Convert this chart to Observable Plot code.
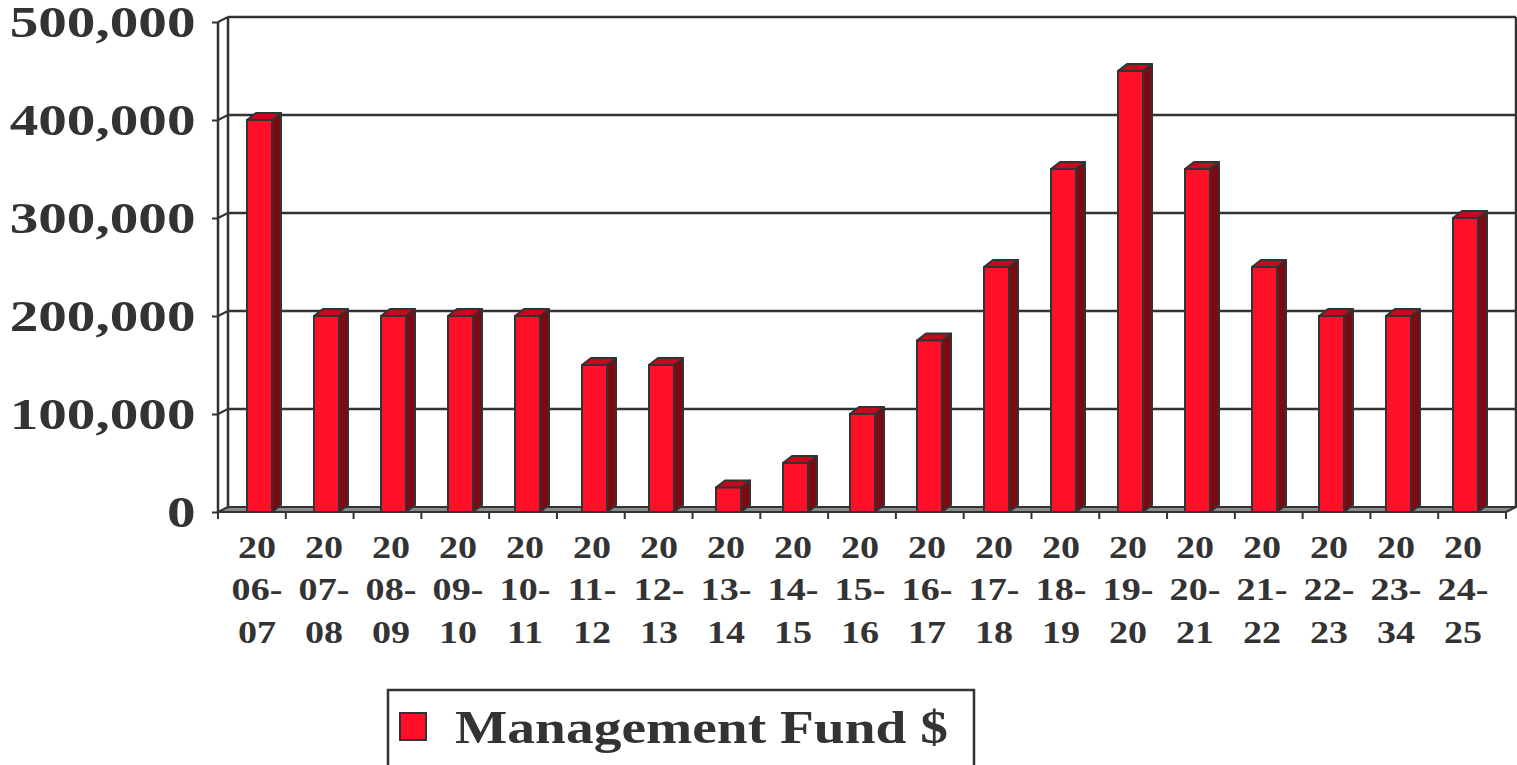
<!DOCTYPE html>
<html>
<head>
<meta charset="utf-8">
<script src="https://cdn.jsdelivr.net/npm/d3@7"></script>
<script src="https://cdn.jsdelivr.net/npm/@observablehq/plot@0.6"></script>
<style>
  html, body { margin: 0; padding: 0; background: #fff; }
  body { width: 1517px; height: 765px; overflow: hidden; position: relative; font-family: "Liberation Serif", "Times New Roman", serif; }
  #legend { position: absolute; left: 0; top: 665px; }
</style>
</head>
<body>
<div id="chart"></div>
<svg id="legend" width="1517" height="100"></svg>
<script>
// ---- data ----
const seasons = ["2006-07","2007-08","2008-09","2009-10","2010-11","2011-12","2012-13","2013-14","2014-15","2015-16","2016-17","2017-18","2018-19","2019-20","2020-21","2021-22","2022-23","2023-34","2024-25"];
const tickLabels = ["20\n06-\n07","20\n07-\n08","20\n08-\n09","20\n09-\n10","20\n10-\n11","20\n11-\n12","20\n12-\n13","20\n13-\n14","20\n14-\n15","20\n15-\n16","20\n16-\n17","20\n17-\n18","20\n18-\n19","20\n19-\n20","20\n20-\n21","20\n21-\n22","20\n22-\n23","20\n23-\n34","20\n24-\n25"];
const fundValues = [400000,200000,200000,200000,200000,150000,150000,25000,50000,100000,175000,250000,350000,450000,350000,250000,200000,200000,300000];
const yTicks = [0,100000,200000,300000,400000,500000];
const seriesName = "Management Fund $";

const data = seasons.map((s, i) => ({season: s, value: fundValues[i]}));
const labelOf = new Map(seasons.map((s, i) => [s, tickLabels[i]]));

// ---- style ----
const INK = "#333";
const FRONT = "#ff1028", TOP = "#c8081e", SIDE = "#7d0912", FLOOR = "#8a8a8a";
const BDX = 9, BDY = 7;   // bar depth
const WDX = 10, WDY = 5;  // wall depth

function wall(index, scales, values, dim) {
  const {y} = scales;
  const L = dim.marginLeft, R = dim.width - dim.marginRight;
  const yTop = y(500000), y0 = y(0);
  const g = d3.create("svg:g").attr("fill", "none").attr("stroke", INK).attr("stroke-width", 2.5).attr("stroke-linejoin", "round");
  for (const t of yTicks) {
    if (t === 0) continue;
    g.append("line").attr("x1", L + WDX).attr("x2", R + WDX).attr("y1", y(t) - WDY).attr("y2", y(t) - WDY);
    g.append("line").attr("x1", L).attr("x2", L + WDX).attr("y1", y(t)).attr("y2", y(t) - WDY).attr("stroke-width", 2);
  }
  g.append("line").attr("x1", L + WDX).attr("x2", L + WDX).attr("y1", yTop - WDY).attr("y2", y0 - WDY);
  g.append("line").attr("x1", R + WDX).attr("x2", R + WDX).attr("y1", yTop - WDY).attr("y2", y0 - WDY);
  g.append("line").attr("x1", L).attr("x2", L).attr("y1", yTop).attr("y2", y0);
  g.append("path")
    .attr("d", `M${L},${y0}L${R},${y0}L${R + WDX},${y0 - WDY}L${L + WDX},${y0 - WDY}Z`)
    .attr("fill", FLOOR).attr("stroke-width", 2);
  const n = seasons.length, step = (R - L) / n;
  for (let i = 0; i <= n; ++i) {
    const xb = L + i * step;
    g.append("line").attr("x1", xb).attr("x2", xb).attr("y1", y0).attr("y2", y0 + 7).attr("stroke-width", 2);
  }
  return g.node();
}

function bars3d(index, scales, values, dim) {
  const {x, y} = scales;
  const bw = x.bandwidth();
  const g = d3.create("svg:g").attr("stroke", INK).attr("stroke-width", 2).attr("stroke-linejoin", "round");
  for (const d of data) {
    const x0 = x(d.season), x1 = x0 + bw, yt = y(d.value), yb = y(0);
    g.append("path")
      .attr("d", `M${x1},${yt}L${x1 + BDX},${yt - BDY}L${x1 + BDX},${yb - BDY}L${x1},${yb}Z`)
      .attr("fill", SIDE);
    g.append("path")
      .attr("d", `M${x0},${yt}L${x0 + BDX},${yt - BDY}L${x1 + BDX},${yt - BDY}L${x1},${yt}Z`)
      .attr("fill", TOP);
  }
  return g.node();
}

const chart = Plot.plot({
  width: 1517,
  height: 665,
  marginLeft: 218,
  marginRight: 11,
  marginTop: 22,
  marginBottom: 153,
  style: {background: "#fff", color: INK, fontFamily: "'Liberation Serif', 'Times New Roman', serif", overflow: "visible"},
  x: {domain: seasons, paddingInner: 0.63, paddingOuter: 0.315, label: null},
  y: {domain: [0, 500000], label: null},
  marks: [
    wall,
    bars3d,
    Plot.barY(data, {x: "season", y: "value", fill: FRONT, stroke: INK, strokeWidth: 2}),
    Plot.axisY(yTicks, {
      tickFormat: d3.format(","), fontSize: 44, fontWeight: "bold",
      tickSize: 6, tickPadding: 17, strokeWidth: 2, fill: INK, stroke: INK, label: null
    }),
    Plot.axisX({
      tickFormat: (d) => labelOf.get(d), fontSize: 32, fontWeight: "bold", lineHeight: 1.33,
      tickSize: 0, tickPadding: 15, dx: -3, fill: INK, label: null
    })
  ]
});

function stretch(sel, k) {
  d3.select(chart).selectAll(sel).each(function() {
    const t = this.getAttribute("transform") || "";
    this.setAttribute("transform", (t + ` scale(${k},1)`).trim());
  });
}
stretch('g[aria-label="y-axis tick label"] text', 1.3);
stretch('g[aria-label="x-axis tick label"] text', 1.19);

document.getElementById("chart").appendChild(chart);

const lg = d3.select("#legend");
lg.append("rect").attr("x", 388).attr("y", 25).attr("width", 586).attr("height", 110)
  .attr("fill", "#fff").attr("stroke", INK).attr("stroke-width", 2.5);
lg.append("rect").attr("x", 400).attr("y", 48).attr("width", 26).attr("height", 27)
  .attr("fill", FRONT).attr("stroke", INK).attr("stroke-width", 2);
lg.append("text").attr("x", 455).attr("y", 78)
  .attr("font-size", 47).attr("font-weight", "bold").attr("fill", INK)
  .attr("font-family", "'Liberation Serif', 'Times New Roman', serif")
  .attr("textLength", 493).attr("lengthAdjust", "spacingAndGlyphs")
  .text(seriesName);
</script>
</body>
</html>
